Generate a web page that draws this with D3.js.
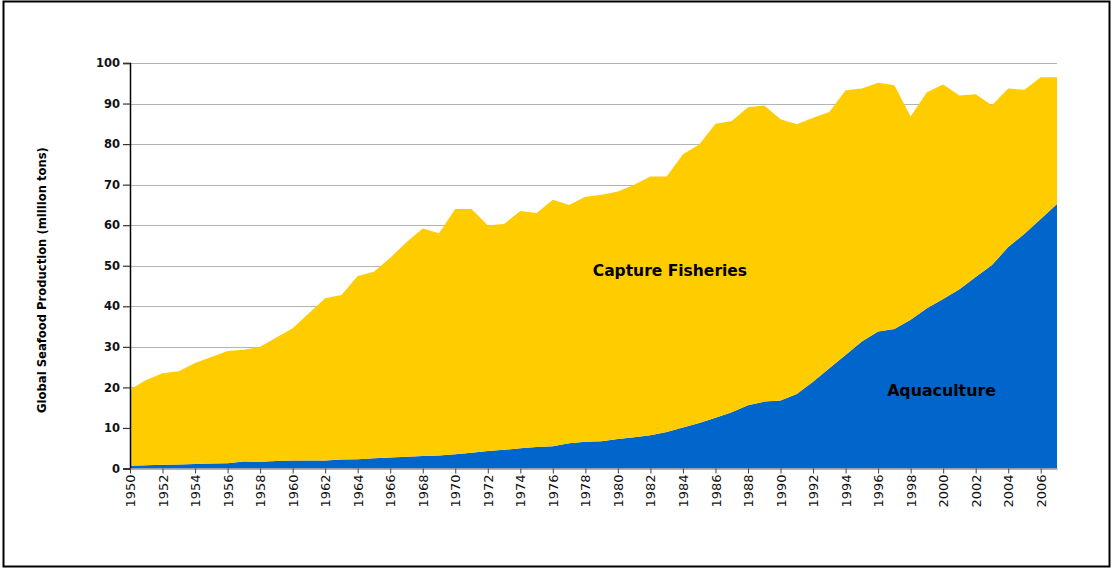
<!DOCTYPE html>
<html lang="en">
<head>
    <meta charset="UTF-8">
    <title>Global Seafood Production</title>
    <script src="https://d3js.org/d3.v7.min.js"></script>
    <style>
        body {
            margin: 0;
            background-color: #fff;
            overflow: hidden;
        }
        .frame {
            fill: none;
            stroke: #000;
            stroke-width: 2px;
        }
        .grid line {
            stroke: #b4b4b4;
            stroke-width: 1.2px;
        }
        .y-axis text {
            font-family: "DejaVu Sans", Verdana, sans-serif;
            font-weight: bold;
            font-size: 11.5px;
            fill: #111;
        }
        .x-axis text {
            font-family: "DejaVu Sans", sans-serif;
            font-size: 13px;
            fill: #111;
        }
        .label {
            font-family: "DejaVu Sans", Verdana, sans-serif;
            font-weight: bold;
            fill: #000;
        }
    </style>
</head>
<body>
    <svg width="1112" height="569"></svg>
    <script>
        // years shown on the x axis
        const years = d3.range(1950, 2008);

        // aquaculture production (million tons)
        const aquaculture = [
            0.7, 0.8, 0.9, 1.0, 1.1, 1.25, 1.3, 1.7, 1.65, 1.85,
            2.0, 1.95, 1.95, 2.2, 2.3, 2.5, 2.7, 2.9, 3.1, 3.2,
            3.5, 3.9, 4.3, 4.6, 5.0, 5.3, 5.5, 6.2, 6.6, 6.7,
            7.3, 7.7, 8.2, 9.0, 10.1, 11.2, 12.5, 13.9, 15.6, 16.5,
            16.8, 18.4, 21.4, 24.7, 28.0, 31.3, 33.8, 34.4, 36.7, 39.5,
            41.8, 44.2, 47.2, 50.2, 54.6, 57.9, 61.5, 65.2
        ];

        // total production (aquaculture + capture)
        const total = [
            19.5, 21.8, 23.5, 24.0, 26.0, 27.5, 29.0, 29.3, 30.0, 32.3,
            34.6, 38.3, 42.0, 42.8, 47.5, 48.5, 52.0, 55.8, 59.2, 58.0,
            64.0, 64.0, 60.0, 60.3, 63.5, 63.0, 66.3, 65.0, 67.0, 67.5,
            68.3, 70.0, 72.0, 72.0, 77.5, 79.9, 85.0, 85.7, 89.1, 89.5,
            86.1, 84.9, 86.5, 87.9, 93.3, 93.7, 95.1, 94.5, 86.8, 92.8,
            94.7, 92.0, 92.3, 89.6, 93.7, 93.4, 96.5, 96.5
        ];

        const capture = total.map((t, i) => t - aquaculture[i]);

        const yTicks = d3.range(0, 101, 10);
        const xTicks = d3.range(1950, 2007, 2);

        const svg = d3.select("svg");
        const margin = { left: 130, right: 55, top: 63, bottom: 101 };
        const width = 1112, height = 569;

        // outer frame
        svg.append("rect")
            .attr("class", "frame")
            .attr("x", 3.5)
            .attr("y", 1.5)
            .attr("width", 1106)
            .attr("height", 565);

        const x = d3.scaleLinear()
            .domain([1950, 2007])
            .range([margin.left, width - margin.right]);

        const y = d3.scaleLinear()
            .domain([0, 100])
            .range([height - margin.bottom + 0.5, margin.top]);

        // gridlines
        svg.append("g")
            .attr("class", "grid")
            .selectAll("line")
            .data(yTicks.filter(d => d > 0))
            .enter().append("line")
            .attr("x1", x(1950))
            .attr("x2", x(2007))
            .attr("y1", d => Math.round(y(d)) + 0.5)
            .attr("y2", d => Math.round(y(d)) + 0.5);

        const rows = years.map((yr, i) => ({ year: yr, aqua: aquaculture[i], capture: capture[i] }));
        const stack = d3.stack().keys(["aqua", "capture"]);
        const series = stack(rows);
        const colors = { aqua: "#0066cc", capture: "#ffcc00" };

        const area = d3.area()
            .x(d => x(d.data.year))
            .y0(d => y(d[0]))
            .y1(d => y(d[1]));

        svg.append("g")
            .selectAll("path")
            .data(series)
            .enter().append("path")
            .attr("fill", d => colors[d.key])
            .attr("d", area);

        // y axis
        const yAxis = svg.append("g")
            .attr("class", "y-axis")
            .attr("transform", `translate(${margin.left},0)`)
            .call(d3.axisLeft(y).tickValues(yTicks).tickSize(7).tickPadding(3));
        yAxis.select(".domain").attr("stroke", "#000").attr("stroke-width", 1.5);
        yAxis.selectAll(".tick line").attr("stroke", "#333").attr("stroke-width", 1.2);

        // x axis
        const xAxis = svg.append("g")
            .attr("class", "x-axis")
            .attr("transform", `translate(0,${y(0)})`)
            .call(d3.axisBottom(x).tickValues(xTicks).tickFormat(d3.format("d")).tickSize(5).tickSizeOuter(0));
        xAxis.select(".domain").attr("stroke", "#999").attr("stroke-width", 1.5);
        xAxis.selectAll(".tick line").attr("stroke", "#444");
        xAxis.selectAll(".tick text")
            .attr("transform", "rotate(-90)")
            .attr("text-anchor", "end")
            .attr("x", -6)
            .attr("y", 0)
            .attr("dy", "0.35em");

        // y axis title
        svg.append("text")
            .attr("class", "label")
            .attr("font-size", 11.6)
            .attr("text-anchor", "middle")
            .attr("transform", `translate(46,${280}) rotate(-90)`)
            .text("Global Seafood Production (million tons)");

        // series labels
        svg.append("text")
            .attr("class", "label")
            .attr("font-size", 15.5)
            .attr("text-anchor", "middle")
            .attr("x", x(1983.2))
            .attr("y", y(47.4))
            .text("Capture Fisheries");

        svg.append("text")
            .attr("class", "label")
            .attr("font-size", 15.8)
            .attr("text-anchor", "middle")
            .attr("x", x(1999.9))
            .attr("y", y(17.9))
            .text("Aquaculture");
    </script>
</body>
</html>
